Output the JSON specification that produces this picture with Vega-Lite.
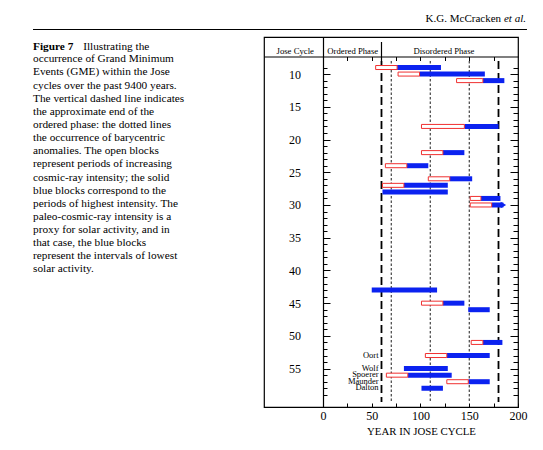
{
  "$schema": "https://vega.github.io/schema/vega-lite/v6.json",
  "width": 254,
  "height": 370,
  "autosize": {"type": "none"},
  "padding": {"left": 264, "top": 37, "right": 25, "bottom": 43},
  "background": "white",
  "config": {
    "view": {"stroke": "black", "strokeWidth": 1.2},
    "font": "Liberation Serif",
    "axis": {"labelFont": "Liberation Serif", "titleFont": "Liberation Serif", "domainColor": "black", "tickColor": "black", "labelColor": "black", "titleColor": "black", "grid": false, "titleFontWeight": "normal", "tickWidth": 1, "domainWidth": 1.2},
    "text": {"font": "Liberation Serif", "color": "black"}
  },
  "datasets": {
    "gme": [
      {"cycle": 9, "open_start": 54, "blue_start": 76, "blue_end": 121},
      {"cycle": 10, "open_start": 77, "blue_start": 99, "blue_end": 166},
      {"cycle": 11, "open_start": 137, "blue_start": 164, "blue_end": 186},
      {"cycle": 18, "open_start": 101, "blue_start": 145, "blue_end": 180},
      {"cycle": 22, "open_start": 101, "blue_start": 123, "blue_end": 145},
      {"cycle": 24, "open_start": 64, "blue_start": 86, "blue_end": 108},
      {"cycle": 26, "open_start": 108, "blue_start": 130, "blue_end": 153},
      {"cycle": 27, "open_start": 61, "blue_start": 83, "blue_end": 128},
      {"cycle": 28, "open_start": null, "blue_start": 61, "blue_end": 128},
      {"cycle": 29, "open_start": 151, "blue_start": 162, "blue_end": 182},
      {"cycle": 30, "open_start": 151, "blue_start": 173, "blue_end": 185, "continues": true},
      {"cycle": 43, "open_start": null, "blue_start": 50, "blue_end": 117},
      {"cycle": 45, "open_start": 101, "blue_start": 123, "blue_end": 145},
      {"cycle": 46, "open_start": null, "blue_start": 149, "blue_end": 171},
      {"cycle": 51, "open_start": 152, "blue_start": 164, "blue_end": 184},
      {"cycle": 53, "open_start": 105, "blue_start": 127, "blue_end": 171, "name": "Oort"},
      {"cycle": 55, "open_start": null, "blue_start": 83, "blue_end": 128, "name": "Wolf"},
      {"cycle": 56, "open_start": 65, "blue_start": 87, "blue_end": 132, "name": "Spoerer"},
      {"cycle": 57, "open_start": 127, "blue_start": 149, "blue_end": 171, "name": "Maunder"},
      {"cycle": 58, "open_start": null, "blue_start": 101, "blue_end": 123, "name": "Dalton"}
    ],
    "dashed": [{"year": 60}, {"year": 180}],
    "dotted": [{"year": 70}, {"year": 110}, {"year": 150}]
  },
  "layer": [
    {
      "data": {"name": "dashed"},
      "mark": {"type": "rule", "strokeDash": [8, 4], "strokeWidth": 1.8, "color": "black"},
      "encoding": {
        "x": {"field": "year", "type": "quantitative", "scale": {"domain": [-60.5, 200], "nice": false, "zero": false},
          "axis": {"orient": "bottom", "values": [0, 25, 50, 75, 100, 125, 150, 175, 200], "labelExpr": "datum.value % 50 === 0 ? datum.label : ''", "tickSize": -4, "labelPadding": 7, "labelFontSize": 12, "labelFlush": false, "labelOverlap": false, "labelBound": false, "title": "YEAR IN JOSE CYCLE", "titleFontSize": 10.8, "titleX": 157, "titleY": 27, "titleAlign": "center", "titleAnchor": null, "titleBaseline": "alphabetic"}},
        "y": {"datum": 8, "type": "quantitative", "scale": {"domain": [5.1, 60.1], "reverse": true, "nice": false, "zero": false},
          "axis": {"orient": "left", "offset": -59, "values": [9,10,11,12,13,14,15,16,17,18,19,20,21,22,23,24,25,26,27,28,29,30,31,32,33,34,35,36,37,38,39,40,41,42,43,44,45,46,47,48,49,50,51,52,53,54,55,56,57,58,59],
            "labelExpr": "datum.value % 5 === 0 ? datum.label : ''", "tickSize": {"condition": {"test": "datum.value % 5 === 0", "value": -7}, "value": -4}, "labelPadding": 29.5, "labelFontSize": 12, "labelFlush": false, "labelOverlap": false, "labelBound": false, "title": null}},
        "y2": {"datum": 60.1}
      }
    },
    {
      "data": {"name": "dotted"},
      "mark": {"type": "rule", "strokeDash": [2.5, 2], "strokeWidth": 0.9, "color": "black"},
      "encoding": {
        "x": {"field": "year", "type": "quantitative", "scale": {"domain": [-60.5, 200], "nice": false, "zero": false},
          "axis": {"orient": "top", "offset": -19.5, "values": [25, 50, 75, 100, 125, 150, 175], "labels": false, "tickSize": -4, "domain": true, "title": null}},
        "y": {"datum": 8, "type": "quantitative", "scale": {"domain": [5.1, 60.1], "reverse": true, "nice": false, "zero": false},
          "axis": {"orient": "right", "values": [9,10,11,12,13,14,15,16,17,18,19,20,21,22,23,24,25,26,27,28,29,30,31,32,33,34,35,36,37,38,39,40,41,42,43,44,45,46,47,48,49,50,51,52,53,54,55,56,57,58,59],
            "labels": false, "tickSize": {"condition": {"test": "datum.value % 5 === 0", "value": -8}, "value": -5}, "domain": false, "title": null}},
        "y2": {"datum": 60.1}
      }
    },
    {
      "data": {"values": [{}]},
      "mark": {"type": "rule", "strokeWidth": 1.2, "color": "black"},
      "encoding": {
        "x": {"datum": 60, "type": "quantitative", "axis": null},
        "y": {"datum": 5.1, "type": "quantitative", "axis": null},
        "y2": {"datum": 8}
      }
    },
    {
      "data": {"values": [{}]},
      "mark": {"type": "text", "text": "Jose Cycle", "font": "Liberation Serif", "fontSize": 8.7, "align": "center", "baseline": "middle"},
      "encoding": {"x": {"datum": -28.5, "type": "quantitative", "axis": null}, "y": {"datum": 6.4, "type": "quantitative", "axis": null}}
    },
    {
      "data": {"values": [{}]},
      "mark": {"type": "text", "text": "Ordered Phase", "font": "Liberation Serif", "fontSize": 8.7, "align": "center", "baseline": "middle"},
      "encoding": {"x": {"datum": 30.5, "type": "quantitative", "axis": null}, "y": {"datum": 6.4, "type": "quantitative", "axis": null}}
    },
    {
      "data": {"values": [{}]},
      "mark": {"type": "text", "text": "Disordered Phase", "font": "Liberation Serif", "fontSize": 8.7, "align": "center", "baseline": "middle"},
      "encoding": {"x": {"datum": 124, "type": "quantitative", "axis": null}, "y": {"datum": 6.4, "type": "quantitative", "axis": null}}
    },
    {
      "data": {"name": "gme"},
      "mark": {"type": "bar", "color": "#0b22f0", "height": 5},
      "encoding": {
        "x": {"field": "blue_start", "type": "quantitative", "axis": null},
        "x2": {"field": "blue_end"},
        "y": {"field": "cycle", "type": "quantitative", "axis": null}
      }
    },
    {
      "data": {"name": "gme"},
      "transform": [{"filter": "isValid(datum.open_start)"}],
      "mark": {"type": "bar", "fill": "white", "stroke": "#f03030", "strokeWidth": 1, "height": 4},
      "encoding": {
        "x": {"field": "open_start", "type": "quantitative", "axis": null},
        "x2": {"field": "blue_start"},
        "y": {"field": "cycle", "type": "quantitative", "axis": null}
      }
    },
    {
      "data": {"name": "gme"},
      "transform": [{"filter": "datum.continues === true"}],
      "mark": {"type": "point", "shape": "triangle-right", "filled": true, "color": "#0b22f0", "size": 40, "opacity": 1},
      "encoding": {
        "x": {"field": "blue_end", "type": "quantitative", "axis": null},
        "y": {"field": "cycle", "type": "quantitative", "axis": null}
      }
    },
    {
      "data": {"name": "gme"},
      "transform": [{"filter": "isValid(datum.name)"}],
      "mark": {"type": "text", "font": "Liberation Serif", "fontSize": 8.5, "align": "right", "baseline": "middle", "dy": -1},
      "encoding": {
        "x": {"datum": 57, "type": "quantitative", "axis": null},
        "y": {"field": "cycle", "type": "quantitative", "axis": null},
        "text": {"field": "name"}
      }
    },
    {
      "data": {"values": [{}]},
      "mark": {"type": "text", "text": "Figure 7", "font": "Liberation Serif", "fontSize": 11.3, "fontWeight": "bold", "align": "left", "baseline": "middle"},
      "encoding": {"x": {"datum": -297.4, "type": "quantitative", "axis": null}, "y": {"datum": 5.8, "type": "quantitative", "axis": null}}
    },
    {
      "data": {"values": [{}]},
      "mark": {"type": "text", "text": "Illustrating the", "font": "Liberation Serif", "fontSize": 11.3, "align": "left", "baseline": "middle"},
      "encoding": {"x": {"datum": -246, "type": "quantitative", "axis": null}, "y": {"datum": 5.8, "type": "quantitative", "axis": null}}
    },
    {
      "data": {"values": [{}]},
      "mark": {"type": "text", "font": "Liberation Serif", "fontSize": 11.3, "lineHeight": 13.13, "align": "left", "baseline": "middle",
        "text": ["occurrence of Grand Minimum", "Events (GME) within the Jose", "cycles over the past 9400 years.", "The vertical dashed line indicates", "the approximate end of the", "ordered phase: the dotted lines", "the occurrence of barycentric", "anomalies. The open blocks", "represent periods of increasing", "cosmic-ray intensity; the solid", "blue blocks correspond to the", "periods of highest intensity. The", "paleo-cosmic-ray intensity is a", "proxy for solar activity, and in", "that case, the blue blocks", "represent the intervals of lowest", "solar activity."]},
      "encoding": {"x": {"datum": -297.4, "type": "quantitative", "axis": null}, "y": {"datum": 7.75, "type": "quantitative", "axis": null}}
    },
    {
      "data": {"values": [{}]},
      "mark": {"type": "text", "text": "K.G. McCracken", "font": "Liberation Serif", "fontSize": 11, "align": "right", "baseline": "middle"},
      "encoding": {"x": {"datum": 182.6, "type": "quantitative", "axis": null}, "y": {"datum": 1.65, "type": "quantitative", "axis": null}}
    },
    {
      "data": {"values": [{}]},
      "mark": {"type": "text", "text": "et al.", "font": "Liberation Serif", "fontSize": 11, "fontStyle": "italic", "align": "left", "baseline": "middle"},
      "encoding": {"x": {"datum": 185.6, "type": "quantitative", "axis": null}, "y": {"datum": 1.65, "type": "quantitative", "axis": null}}
    },
    {
      "data": {"values": [{}]},
      "mark": {"type": "rule", "strokeWidth": 1.1, "color": "black"},
      "encoding": {"x": {"datum": -297.4, "type": "quantitative", "axis": null}, "x2": {"datum": 209.2}, "y": {"datum": 3.2, "type": "quantitative", "axis": null}}
    }
  ],
  "resolve": {"axis": {"x": "independent", "y": "independent"}}
}
